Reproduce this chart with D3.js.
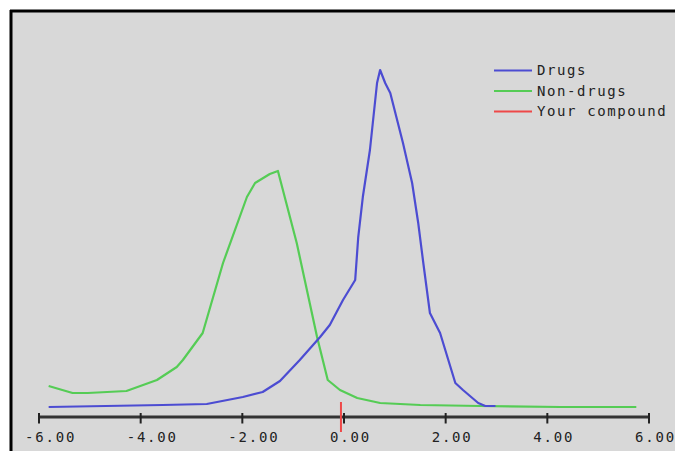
<!DOCTYPE html>
<html><head><meta charset="utf-8">
<script src="https://cdn.jsdelivr.net/npm/d3@7"></script>
<style>html,body{margin:0;padding:0;background:#fff;}svg{display:block;}</style>
</head><body>
<script>
// Data (x = property value, y = relative frequency in %)
const drugsX = [-5.80,-3.56,-2.69,-1.98,-1.59,-1.25,-0.86,-0.46,-0.27,-0.01,0.23,0.29,0.38,0.52,0.66,0.72,0.82,0.92,1.17,1.35,1.47,1.57,1.70,1.90,2.20,2.35,2.65,2.79,2.99];
const drugsY = [0,0.2,0.3,1.0,1.5,2.6,4.7,7.0,8.2,10.7,12.7,17.0,21.0,25.7,32.4,33.7,32.4,31.4,26.4,22.4,18.4,14.4,9.4,7.4,2.4,1.7,0.4,0.1,0.1];
const nonDrugsX = [-5.80,-5.33,-5.03,-4.27,-3.67,-3.28,-3.16,-2.77,-2.37,-1.90,-1.74,-1.45,-1.29,-0.92,-0.52,-0.31,-0.07,0.27,0.72,1.51,2.69,4.27,5.76];
const nonDrugsY = [2.1,1.4,1.4,1.6,2.7,4.0,4.7,7.4,14.4,21.0,22.4,23.3,23.6,16.4,7.0,2.7,1.7,0.9,0.4,0.2,0.1,0,0];
const compoundValue = -0.05;
const tickValues = [-6,-4,-2,0,2,4,6];
const tickLabels = ["-6.00","-4.00","-2.00","0.00","2.00","4.00","6.00"];
const legendLabels = ["Drugs","Non-drugs","Your compound"];
const colors = ["#4c4cd2","#55cc55","#ee4848"];

const W = 675, H = 451;
const svg = d3.select("body").append("svg").attr("width", W).attr("height", H);

// panel background + frame
svg.append("rect").attr("x",10).attr("y",10).attr("width",W).attr("height",H).attr("fill","#d8d8d8");
svg.append("line").attr("x1",11).attr("x2",11).attr("y1",10).attr("y2",H).attr("stroke","#000").attr("stroke-width",3);
svg.append("line").attr("x1",10).attr("x2",W).attr("y1",11).attr("y2",11).attr("stroke","#000").attr("stroke-width",3);

const x = d3.scaleLinear().domain([-6,6]).range([38.5,648.5]);
const y = d3.scaleLinear().domain([0,40]).range([407,7]);

// axis
const axisY = 416.5;
const ax = svg.append("g").attr("transform",`translate(0,${axisY})`)
  .call(d3.axisBottom(x).tickValues(tickValues).tickSize(0).tickFormat(""));
ax.select(".domain").attr("stroke","#333").attr("stroke-width",3);
ax.selectAll(".tick").append("line").attr("y1",-3.5).attr("y2",7).attr("stroke","#222").attr("stroke-width",2);
ax.selectAll(".tick").append("text")
  .text((d,i)=>tickLabels[i])
  .attr("x",-14).attr("y",25.5).attr("text-anchor","start")
  .attr("fill","#222").style("font-family","'DejaVu Sans Mono', monospace")
  .style("font-size","14px").style("letter-spacing","1.8px");

const line = d3.line().x(d=>x(d[0])).y(d=>y(d[1]));
const drugs = drugsX.map((v,i)=>[v,drugsY[i]]);
const nonDrugs = nonDrugsX.map((v,i)=>[v,nonDrugsY[i]]);

svg.append("path").datum(nonDrugs).attr("d",line).attr("fill","none")
  .attr("stroke",colors[1]).attr("stroke-width",2.2).attr("stroke-linejoin","round");
svg.append("path").datum(drugs).attr("d",line).attr("fill","none")
  .attr("stroke",colors[0]).attr("stroke-width",2.2).attr("stroke-linejoin","round");

// compound marker
svg.append("line").attr("x1",x(compoundValue)).attr("x2",x(compoundValue))
  .attr("y1",402).attr("y2",432).attr("stroke",colors[2]).attr("stroke-width",2);

// legend
const lg = svg.append("g");
legendLabels.forEach((lab,i)=>{
  const ly = 70.5 + i*20.5;
  lg.append("line").attr("x1",494).attr("x2",532).attr("y1",ly).attr("y2",ly)
    .attr("stroke",colors[i]).attr("stroke-width",2);
  lg.append("text").attr("x",537).attr("y",ly+4.5).text(lab)
    .attr("fill","#222").style("font-family","'DejaVu Sans Mono', monospace")
    .style("font-size","14px").style("letter-spacing","1.6px");
});
</script>
</body></html>
